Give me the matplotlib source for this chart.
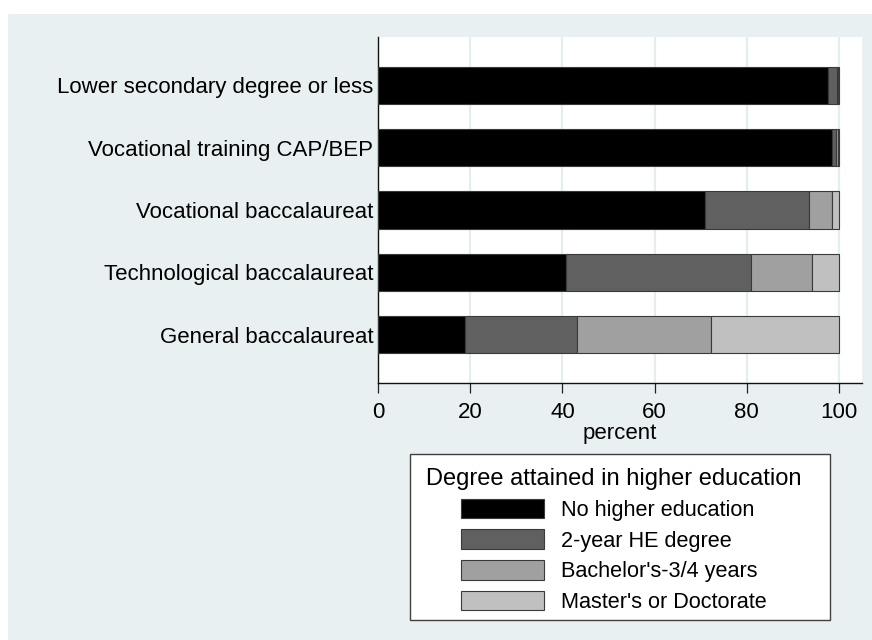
import matplotlib
matplotlib.use("Agg")
import matplotlib.pyplot as plt
import numpy as np
from matplotlib.patches import Rectangle, Patch

plt.rcParams['font.family'] = ['Liberation Sans', 'DejaVu Sans']

categories = ["Lower secondary degree or less",
              "Vocational training CAP/BEP",
              "Vocational baccalaureat",
              "Technological baccalaureat",
              "General baccalaureat"]
series_names = ["No higher education", "2-year HE degree",
                "Bachelor's-3/4 years", "Master's or Doctorate"]
no_higher = [97.6, 98.4, 70.9, 40.8, 18.9]
two_year = [2.0, 0.9, 22.5, 40.2, 24.3]
bachelor = [0.2, 0.4, 5.0, 13.1, 29.0]
master = [0.2, 0.3, 1.6, 5.9, 27.8]
xticks = [0, 20, 40, 60, 80, 100]

colors = ["#000000", "#606060", "#a0a0a0", "#c0c0c0"]
bg = "#e8f0f2"

W, H = 872, 640
fig = plt.figure(figsize=(W/100, H/100), dpi=100)
fig.patch.set_facecolor("white")
fig.patches.append(Rectangle((8/W, 0), 1 - 8/W, (H-14)/H,
                             transform=fig.transFigure, facecolor=bg,
                             edgecolor="none", zorder=-10))

ax = fig.add_axes([378/W, 1-383/H, (862-378)/W, (383-37)/H])
ax.set_facecolor("white")

y = np.arange(len(categories))
left = np.zeros(len(categories))
for vals, c, name in zip([no_higher, two_year, bachelor, master], colors, series_names):
    ax.barh(y, vals, left=left, height=0.6, color=c, edgecolor="#3a3a3a",
            linewidth=0.8, label=name, zorder=3)
    left += np.array(vals)

ax.set_ylim(4.775, -0.775)
ax.set_xlim(0, 105)
ax.set_yticks(y)
ax.set_yticklabels(categories, fontsize=16)
ax.tick_params(axis='y', length=0, pad=3.5)
ax.set_xticks(xticks)
ax.set_xticklabels([str(t) for t in xticks], fontsize=16)
ax.tick_params(axis='x', length=7, width=0.9, color="#222222", pad=6.5)
ax.set_xlabel("percent", fontsize=16, labelpad=0.5)

for t in xticks[1:]:
    ax.axvline(t, color="#e4eef1", linewidth=1.6, zorder=1)

for s in ["top", "right"]:
    ax.spines[s].set_visible(False)
ax.spines["left"].set_color("#111111")
ax.spines["bottom"].set_color("#111111")
ax.spines["left"].set_linewidth(1.0)
ax.spines["bottom"].set_linewidth(1.0)

# legend frame box
fig.patches.append(Rectangle((410/W, 1-620/H), 420/W, 166/H,
                             transform=fig.transFigure, facecolor="white",
                             edgecolor="#404040", linewidth=1.0, zorder=-5))

handles = [Patch(facecolor=c, edgecolor="#3a3a3a", linewidth=0.8) for c in colors]
leg = fig.legend(handles, series_names, title="Degree attained in higher education",
                 loc="upper center", bbox_to_anchor=(614/W, 1-468/H),
                 bbox_transform=fig.transFigure, borderaxespad=0,
                 fontsize=15.6, title_fontsize=17, frameon=False,
                 handlelength=3.8, handleheight=1.0, handletextpad=0.8,
                 labelspacing=0.4, borderpad=0)

fig.savefig("out.png", dpi=100)
